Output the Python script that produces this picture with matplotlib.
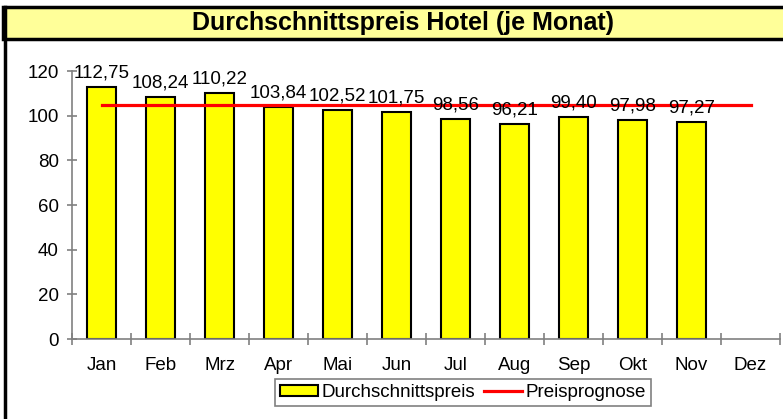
import matplotlib
matplotlib.use("Agg")
import matplotlib.pyplot as plt
import numpy as np
from matplotlib.patches import Rectangle
from matplotlib.lines import Line2D

plt.rcParams['font.family'] = ['Liberation Sans', 'DejaVu Sans']

months = ["Jan", "Feb", "Mrz", "Apr", "Mai", "Jun", "Jul", "Aug", "Sep", "Okt", "Nov", "Dez"]
prices = [112.75, 108.24, 110.22, 103.84, 102.52, 101.75, 98.56, 96.21, 99.40, 97.98, 97.27]
forecast = [104.8] * 12
title = "Durchschnittspreis Hotel (je Monat)"
yticks = [0, 20, 40, 60, 80, 100, 120]

FS = 13.5
fig = plt.figure(figsize=(7.83, 4.19), dpi=100)
W, H = 783, 419

# title band
fig.patches.append(Rectangle((3 / W, 1 - 39 / H), 1.1, 32 / H, transform=fig.transFigure,
                             facecolor="#FFFF99", edgecolor="black", linewidth=2.5))
fig.add_artist(Line2D([4.5 / W, 4.5 / W], [0, 1 - 7 / H], transform=fig.transFigure,
                      color="black", linewidth=2.5))
fig.text(403 / W, 1 - 23 / H, title, ha="center", va="center", fontsize=18, fontweight="bold")

ax = fig.add_axes([72 / W, 1 - 339 / H, 708 / W, 268 / H])
x = np.arange(len(months))
bars = ax.bar(x[:len(prices)], prices, width=0.5, color="#FFFF00", edgecolor="black",
              linewidth=1.5, label="Durchschnittspreis", zorder=2)
ax.plot(x, forecast, color="#FF0000", linewidth=2.3, label="Preisprognose", zorder=3)

for xi, v in zip(x, prices):
    ax.annotate(f"{v:.2f}".replace(".", ","), (xi, v), xytext=(0, 4), textcoords="offset points",
                ha="center", va="bottom", fontsize=FS, zorder=4)

ax.set_xlim(-0.5, 11.5)
ax.set_ylim(0, 120)
ax.set_yticks(yticks)
ax.set_xticks(x)
ax.set_xticklabels(months)
ax.set_xticks(np.arange(-0.5, 12.0, 1.0), minor=True)

for s in ["top", "right"]:
    ax.spines[s].set_visible(False)
for s in ["left", "bottom"]:
    ax.spines[s].set_color("#808080")
    ax.spines[s].set_linewidth(1.2)

ax.tick_params(axis="x", which="major", length=0, pad=13, labelsize=FS)
ax.tick_params(axis="x", which="minor", direction="inout", length=8, color="#808080", width=1.2)
ax.tick_params(axis="y", direction="inout", length=7, color="#808080", width=1.2, pad=6, labelsize=FS)

leg = fig.legend(handles=[bars, ax.lines[0]], labels=["Durchschnittspreis", "Preisprognose"],
                 loc="center", bbox_to_anchor=(463 / W, 1 - 392.5 / H), ncol=2, fontsize=FS,
                 frameon=True, fancybox=False, edgecolor="#606060", handlelength=2.0,
                 handleheight=0.55, handletextpad=0.2, columnspacing=0.5, borderpad=0.25,
                 borderaxespad=0)
leg.get_frame().set_linewidth(1.2)

fig.savefig("out.png", dpi=100)
